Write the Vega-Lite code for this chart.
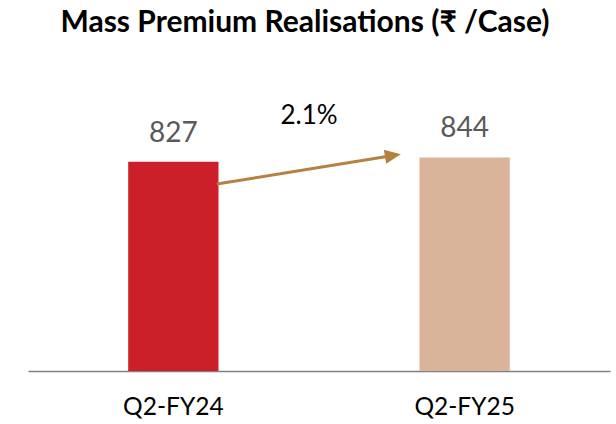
{
  "$schema": "https://vega.github.io/schema/vega-lite/v6.json",
  "width": 582,
  "height": 253,
  "autosize": {"type": "none"},
  "padding": {"left": 28, "top": 118, "right": 6, "bottom": 53},
  "background": "white",
  "config": {"view": {"stroke": null}, "font": "Lato"},
  "title": {
    "text": "Mass Premium Realisations (₹ /Case)",
    "font": "Lato",
    "fontSize": 30,
    "fontWeight": "bold",
    "color": "#000000",
    "anchor": "middle",
    "frame": "group",
    "baseline": "alphabetic",
    "offset": 41,
    "dx": -14
  },
  "datasets": {
    "bars": [
      {"period": "Q2-FY24", "value": 827},
      {"period": "Q2-FY25", "value": 844}
    ],
    "arrow": [
      {"x": 0.649, "y": 739, "x2": 1.254, "y2": 852, "growth": "2.1%", "lx": 0.966, "ly": 976}
    ]
  },
  "resolve": {"scale": {"x": "independent"}},
  "layer": [
    {
      "data": {"name": "bars"},
      "layer": [
        {
          "mark": {"type": "bar"},
          "encoding": {
            "x": {
              "field": "period",
              "type": "nominal",
              "sort": null,
              "scale": {"paddingInner": 0.69, "paddingOuter": 0.344},
              "axis": {
                "title": null,
                "labelAngle": 0,
                "labelFont": "Lato",
                "labelFontSize": 24.5,
                "labelColor": "#000000",
                "labelPadding": 24,
                "ticks": false,
                "domainColor": "#808080",
                "domainWidth": 1.5,
                "grid": false
              }
            },
            "y": {
              "field": "value",
              "type": "quantitative",
              "scale": {"domain": [0, 1000], "nice": false},
              "axis": null
            },
            "color": {
              "field": "period",
              "type": "nominal",
              "scale": {"domain": ["Q2-FY24", "Q2-FY25"], "range": ["#CB1F2A", "#D9B49B"]},
              "legend": null
            }
          }
        },
        {
          "mark": {"type": "text", "baseline": "alphabetic", "dy": -20, "font": "Lato", "fontSize": 28, "color": "#595959"},
          "encoding": {
            "x": {"field": "period", "type": "nominal", "sort": null},
            "y": {"field": "value", "type": "quantitative"},
            "text": {"field": "value", "type": "quantitative"}
          }
        }
      ]
    },
    {
      "data": {"name": "arrow"},
      "layer": [
        {
          "mark": {"type": "rule", "color": "#B5813F", "strokeWidth": 3},
          "encoding": {
            "x": {"field": "x", "type": "quantitative", "scale": {"domain": [0, 2], "nice": false, "zero": false}, "axis": null},
            "y": {"field": "y", "type": "quantitative"},
            "x2": {"field": "x2"},
            "y2": {"field": "y2"}
          }
        },
        {
          "mark": {"type": "point", "shape": "M1,0L-1,-0.9L-1,0.9Z", "size": 256, "filled": true, "opacity": 1, "color": "#B5813F", "angle": 350.7},
          "encoding": {
            "x": {"field": "x2", "type": "quantitative", "scale": {"domain": [0, 2], "nice": false, "zero": false}, "axis": null},
            "y": {"field": "y2", "type": "quantitative"}
          }
        },
        {
          "mark": {"type": "text", "baseline": "alphabetic", "font": "Lato", "fontSize": 26, "color": "#000000"},
          "encoding": {
            "x": {"field": "lx", "type": "quantitative", "scale": {"domain": [0, 2], "nice": false, "zero": false}, "axis": null},
            "y": {"field": "ly", "type": "quantitative"},
            "text": {"field": "growth", "type": "nominal"}
          }
        }
      ]
    }
  ]
}
